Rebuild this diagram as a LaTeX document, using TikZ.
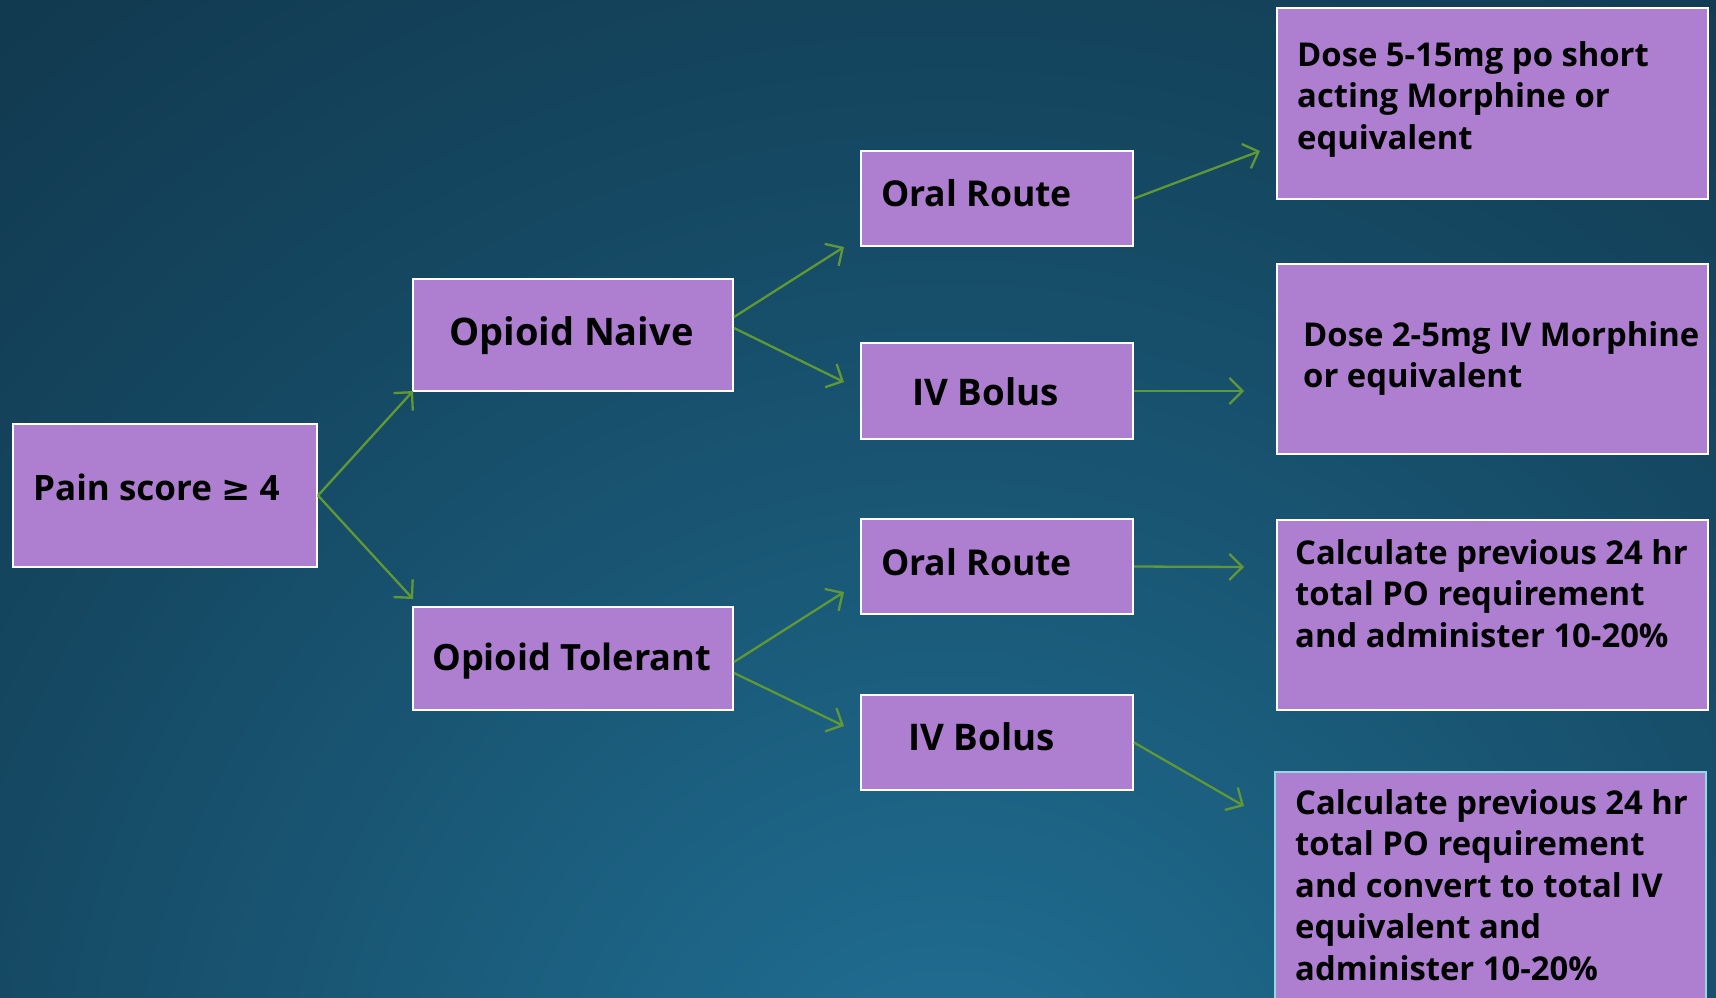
\documentclass[tikz,border=0pt]{standalone}
\usepackage{fontspec}
\setmainfont{Open Sans}[BoldFont={* Bold}]
\newfontfamily\symfont{DejaVu Sans}[BoldFont={* Bold}]
\usetikzlibrary{arrows.meta,calc}
\definecolor{bgdark}{RGB}{17,56,78}
\definecolor{bgmid}{RGB}{21,72,98}
\definecolor{bglight}{RGB}{31,107,143}
\definecolor{boxfill}{RGB}{174,126,208}
\definecolor{arrowgreen}{RGB}{96,152,54}
\definecolor{cyanedge}{RGB}{150,215,230}
% the path's radius corresponds to 25bp of the shading
\pgfdeclareradialshading{bgshade}{\pgfpoint{0bp}{0bp}}{color(0bp)=(bglight); color(2bp)=(bglight); color(13.9bp)=(bgmid); color(21bp)=(bgdark); color(50bp)=(bgdark)}
\tikzset{
  box/.style={draw=white,line width=2pt,fill=boxfill,rectangle,inner sep=0pt},
  bigtext/.style={anchor=base west,inner sep=0pt,font=\fontsize{#1}{46}\selectfont\bfseries},
  smalltext/.style={anchor=base west,inner sep=0pt,align=left,font=\fontsize{32.8}{41.5}\selectfont\bfseries},
  conn/.style={draw=arrowgreen,line width=2.3pt,-{Straight Barb[length=13pt,width=26pt,line width=2.3pt]}}
}
\begin{document}
\begin{tikzpicture}[x=1pt,y=-1pt]
\useasboundingbox (0,0) rectangle (1716,997);
\begin{scope}
\clip (0,0) rectangle (1716,997);
\fill[bgdark] (0,0) rectangle (1716,997);
\shade[shading=bgshade] (950,1150) circle (1800);
\end{scope}
% boxes
\node[box,minimum width=304pt,minimum height=143pt] (pain) at (165,495.5) {};
\node[box,minimum width=320pt,minimum height=112pt] (naive) at (573,335) {};
\node[box,minimum width=320pt,minimum height=103pt] (tol) at (573,658.5) {};
\node[box,minimum width=272pt,minimum height=95pt] (oral1) at (997,198.5) {};
\node[box,minimum width=272pt,minimum height=96pt] (iv1) at (997,391) {};
\node[box,minimum width=272pt,minimum height=95pt] (oral2) at (997,566.5) {};
\node[box,minimum width=272pt,minimum height=95pt] (iv2) at (997,742.5) {};
\node[box,minimum width=431pt,minimum height=191pt] (r1) at (1492.5,103.5) {};
\node[box,minimum width=431pt,minimum height=190pt] (r2) at (1492.5,359) {};
\node[box,minimum width=431pt,minimum height=190pt] (r3) at (1492.5,615) {};
\node[box,draw=cyanedge,minimum width=431pt,minimum height=250pt] (r4) at (1490.5,897) {};
% texts (multi-line nodes are placed by the baseline of their last line)
\node[bigtext=35] (painT) at (33,500) {Pain score {\symfont\bfseries ≥} 4};
\node[bigtext=38] (naiveT) at (449,345) {Opioid Naive};
\node[bigtext=36.2] (tolT) at (432,670) {Opioid Tolerant};
\node[bigtext=35.6] (oral1T) at (881,206) {Oral Route};
\node[bigtext=36.7] (iv1T) at (912,405) {IV Bolus};
\node[bigtext=35.6] (oral2T) at (881,575) {Oral Route};
\node[bigtext=36.7] (iv2T) at (908,750) {IV Bolus};
\node[smalltext] (r1T) at (1297,149) {Dose 5-15mg po short\\acting Morphine or\\equivalent};
\node[smalltext] (r2T) at (1303,387.5) {Dose 2-5mg IV Morphine\\or equivalent};
\node[smalltext] (r3T) at (1295,647) {Calculate previous 24 hr\\total PO requirement\\and administer 10-20\%};
\node[smalltext] (r4T) at (1295,980) {Calculate previous 24 hr\\total PO requirement\\and convert to total IV\\equivalent and\\administer 10-20\%};
% arrow tips
\coordinate (t1) at (413,391);
\coordinate (t2) at (413,599);
\coordinate (t3) at (844,247);
\coordinate (t4) at (844,382);
\coordinate (t5) at (844,592);
\coordinate (t6) at (844,726);
\coordinate (t7) at (1260,151);
\coordinate (t8) at (1244,391);
\coordinate (t9) at (1244,567);
\coordinate (t10) at (1244,806);
% connectors
\draw[conn] (pain.east) -- (t1);
\draw[conn] (pain.east) -- (t2);
\draw[conn] ($(naive.east)+(0,-18)$) -- (t3);
\draw[conn] ($(naive.east)+(0,-7)$) -- (t4);
\draw[conn] ($(tol.east)+(0,3.5)$) -- (t5);
\draw[conn] ($(tol.east)+(0,14.5)$) -- (t6);
\draw[conn] (oral1.east) -- (t7);
\draw[conn] (iv1.east) -- (t8);
\draw[conn] (oral2.east) -- (t9);
\draw[conn] (iv2.east) -- (t10);
\end{tikzpicture}
\end{document}
